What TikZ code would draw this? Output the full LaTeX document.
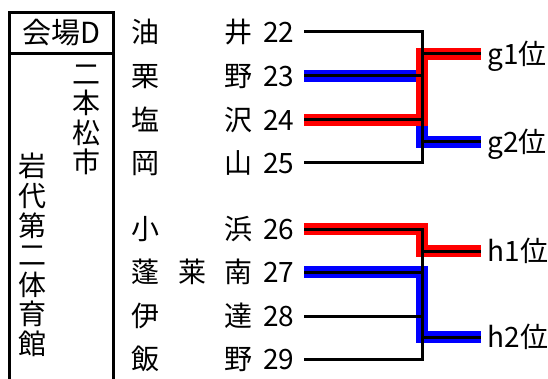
\documentclass[tikz,border=0pt]{standalone}
\usepackage{fontspec}
\setmainfont{Noto Sans CJK JP}
\begin{document}
\begin{tikzpicture}[x=1pt, y=-1pt, line width=3pt,
    txt/.style={inner sep=0pt, text height=22.5pt, text depth=1.5pt, font=\fontsize{28}{29.6}\selectfont},
    vtxt/.style={inner sep=0pt, align=center, font=\fontsize{28}{29.6}\selectfont},
    winred/.style={line width=12pt, red},
    winblue/.style={line width=12pt, blue}]
\useasboundingbox (0,0) rectangle (548,379);
% frame
\draw (9,379)--(9,13)--(113,13)--(113,379);
\draw (9,53.5)--(113,53.5);
\node[txt, font=\fontsize{29}{30}\selectfont] (venue) at (61,33) {会場D};
\node[vtxt] (city) at (86,120) {二\\本\\松\\市};
\node[vtxt] (hall) at (32,255) {岩\\代\\第\\二\\体\\育\\館};
% teams
\foreach \a/\b/\n/\y in {油/井/22/32, 栗/野/23/76, 塩/沢/24/120, 岡/山/25/163,
    小/浜/26/229, 蓬/南/27/272, 伊/達/28/316, 飯/野/29/359}
{
    \node[txt] (f\n) at (145,\y) {\a};
    \node[txt] (l\n) at (238,\y) {\b};
    \node[txt, anchor=east, inner xsep=8pt] (n\n) at (304,\y) {\n};
    \coordinate (j\n) at (422,\y);
}
\node[txt] (m27) at (192,272) {莱};
\foreach \w/\y in {g1/54, g2/142, h1/251, h2/337}
{
    \coordinate (j\w) at (422,\y);
    \node[txt, anchor=west, inner xsep=5pt] (\w) at (481,\y) {{\w}位};
}
% winners
\draw[winblue] (n23.east)--(j23)--(jg2)--(g2.west);
\draw[winred] (n24.east)--(j24)--(jg1)--(g1.west);
\draw[winred] (n26.east)--(j26)--(jh1)--(h1.west);
\draw[winblue] (n27.east)--(j27)--(jh2)--(h2.west);
% bracket
\draw (n22.east)--(j22)--(j25)--(n25.east);
\draw (n26.east)--(j26)--(j29)--(n29.east);
\foreach \n in {23,24,27,28}
    \draw (n\n.east)--(j\n);
\foreach \w in {g1,g2,h1,h2}
    \draw (j\w)--(\w.west);
\end{tikzpicture}
\end{document}
